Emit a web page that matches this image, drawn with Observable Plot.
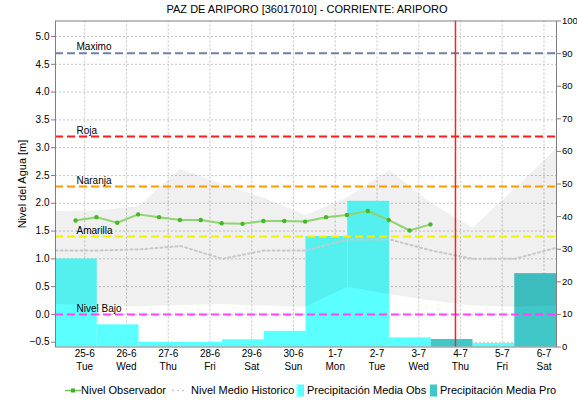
<!DOCTYPE html>
<html>
<head>
<meta charset="utf-8">
<script src="https://cdn.jsdelivr.net/npm/d3@7"></script>
<script src="https://cdn.jsdelivr.net/npm/@observablehq/plot@0.6"></script>
<style>
  body { margin: 0; background: #fff; font-family: "Liberation Sans", Arial, sans-serif; }
  #wrap { position: relative; width: 577px; height: 401px; overflow: hidden; }
  #title { position: absolute; top: 3px; left: 307px; transform: translateX(-50%); white-space: nowrap; font-size: 11px; line-height: 13px; color: #000; z-index: 2; }
  #chart { position: absolute; top: 10px; left: 0; }
  #ylabel { position: absolute; left: 22px; top: 183.5px; transform: translate(-50%, -50%) rotate(-90deg); white-space: nowrap; font-size: 11px; line-height: 13px; }
  .leg { position: absolute; top: 384px; font-size: 11px; line-height: 13px; white-space: nowrap; }
  .leg svg { position: absolute; top: 0; }
</style>
</head>
<body>
<div id="wrap">
  <div id="chart"></div>
  <div id="title">PAZ DE ARIPORO [36017010] - CORRIENTE: ARIPORO</div>
  <div id="ylabel">Nivel del Agua [m]</div>
  <div class="leg" style="left:65px;"><svg width="16" height="13"><line x1="0" y1="6.5" x2="16" y2="6.5" stroke="#6cc84a" stroke-width="1.5"/><rect x="6" y="4.5" width="4" height="4" fill="#3cae20"/></svg><span style="position:absolute;left:16px;">Nivel Observador</span></div>
  <div class="leg" style="left:172px;"><svg width="14" height="13"><line x1="0" y1="6.5" x2="14" y2="6.5" stroke="#c8c8c8" stroke-width="1.5" stroke-dasharray="2,3"/></svg><span style="position:absolute;left:19px;">Nivel Medio Historico</span></div>
  <div class="leg" style="left:296px;"><svg width="9" height="13"><rect x="0" y="0.5" width="8" height="12" fill="#5affff"/><rect x="0" y="0.5" width="2" height="12" fill="#b8ffff"/></svg><span style="position:absolute;left:11px;">Precipitación Media Obs</span></div>
  <div class="leg" style="left:430px;"><svg width="8" height="13"><rect x="0" y="0.5" width="7" height="12" fill="#40c8c8"/></svg><span style="position:absolute;left:10px;">Precipitación Media Pro</span></div>
</div>
<script>
// ---- data ----
const days = ["25-6","26-6","27-6","28-6","29-6","30-6","1-7","2-7","3-7","4-7","5-7","6-7"];
const weekdays = ["Tue","Wed","Thu","Fri","Sat","Sun","Mon","Tue","Wed","Thu","Fri","Sat"];

// observed level (every 12 h, in days from the start of 25-6)
const obsTime  = [0.48,0.98,1.48,1.98,2.48,2.98,3.48,3.98,4.48,4.98,5.48,5.98,6.48,6.98,7.48,7.98,8.48,8.98];
const obsLevel = [1.69,1.75,1.65,1.80,1.75,1.70,1.70,1.64,1.63,1.68,1.68,1.67,1.75,1.79,1.86,1.70,1.51,1.62];

// historical band and mean, at day boundaries
const bandTime = [0,1,2,3,4,5,6,7,8,9,10,11,12];
const bandHigh = [1.85,1.86,1.94,2.61,2.34,2.09,1.78,2.10,2.59,2.00,1.55,2.25,2.97];
const bandLow  = [0.18,0.15,0.14,0.16,0.18,0.15,0.13,0.49,0.36,0.24,0.15,0.13,0.16];
const meanHist = [1.15,1.15,1.17,1.23,1.00,1.15,1.15,1.35,1.35,1.15,1.00,1.00,1.20];

// precipitation (right axis, 0-100)
const precipObs  = [27.0,6.8,1.4,1.4,2.2,4.8,33.9,44.7,2.8,null,1.1,null];
const precipPred = [null,null,null,null,null,null,null,null,null,2.3,null,22.5];

// alert thresholds
const thresholdNames  = ["Maximo","Roja","Naranja","Amarilla","Nivel Bajo"];
const thresholdValues = [4.7,3.2,2.3,1.4,0.0];
const thresholdColors = ["#7080a8","#ff1a1a","#ff9a00","#f2f200","#ff44ff"];

const nowTime = 9.58;
const leftTicks = [-0.5,0,0.5,1,1.5,2,2.5,3,3.5,4,4.5,5];
const rightTicks = [0,10,20,30,40,50,60,70,80,90,100];
const tickOffset = 0.7;

// ---- derived ----
const yMin = -0.586, yMax = 5.279;
const toLeft = v => yMin + v / 100 * (yMax - yMin);
const fromLeft = y => (y - yMin) / (yMax - yMin) * 100;

const obs = obsTime.map((t, i) => ({t, v: obsLevel[i]}));
const band = bandTime.map((t, i) => ({t, hi: bandHigh[i], lo: bandLow[i], mean: meanHist[i]}));
const obsBars = days.map((d, i) => ({i, v: precipObs[i]})).filter(d => d.v != null);
const predBars = days.map((d, i) => ({i, v: precipPred[i]})).filter(d => d.v != null);
const thresholds = thresholdNames.map((n, i) => ({name: n, value: thresholdValues[i], color: thresholdColors[i]}));
const xTicks = days.map((d, i) => i + tickOffset);
const idx = v => Math.round(v - tickOffset);

const chart = Plot.plot({
  width: 577,
  height: 366,
  marginTop: 10.5,
  marginBottom: 29.5,
  marginLeft: 55,
  marginRight: 21,
  style: {fontFamily: "'Liberation Sans', Arial, sans-serif", fontSize: "10px", background: "transparent", overflow: "visible"},
  x: {domain: [0, 12]},
  y: {domain: [yMin, yMax]},
  marks: [
    Plot.ruleY(leftTicks, {stroke: "#c4c4c4", strokeDasharray: "2,2", strokeWidth: 1}),
    Plot.ruleX(xTicks, {stroke: "#c4c4c4", strokeDasharray: "2,2", strokeWidth: 1}),
    Plot.rect(obsBars, {x1: d => d.i, x2: d => d.i + 1, y1: () => toLeft(0), y2: d => toLeft(d.v), fill: "#5affff"}),
    Plot.rect(predBars, {x1: d => d.i, x2: d => d.i + 1, y1: () => toLeft(0), y2: d => toLeft(d.v), fill: "#40c8c8"}),
    Plot.areaY(band, {x: "t", y1: "lo", y2: "hi", fill: "#000", fillOpacity: 0.06}),
    Plot.line(band, {x: "t", y: "mean", stroke: "#c8c8c8", strokeWidth: 2, strokeDasharray: "2,3"}),
    Plot.ruleY(thresholds, {y: "value", stroke: "color", strokeWidth: 2, strokeDasharray: "8,4"}),
    Plot.text(thresholds, {y: "value", text: "name", frameAnchor: "left", dx: 21, dy: -6, textAnchor: "start", fill: "#000", fontSize: 10}),
    Plot.line(obs, {x: "t", y: "v", stroke: "#8fd46f", strokeWidth: 2}),
    Plot.dot(obs, {x: "t", y: "v", r: 2.2, fill: "#44b826", stroke: "none"}),
    Plot.ruleX([nowTime], {stroke: "#ff2020", strokeWidth: 1.5}),
    Plot.axisY({anchor: "left", ticks: leftTicks, tickFormat: d3.format(".1f"), tickSize: 4, tickPadding: 2, label: null, stroke: "#808080"}),
    Plot.axisY({anchor: "right", ticks: rightTicks.map(toLeft), tickFormat: y => String(Math.round(fromLeft(y))), tickSize: 4, tickPadding: 1.5, fontSize: 9.5, label: null, stroke: "#808080"}),
    Plot.axisX({ticks: xTicks, tickFormat: v => days[idx(v)], tickSize: 0, tickPadding: 3, label: null}),
    Plot.axisX({ticks: xTicks, tickFormat: v => weekdays[idx(v)], tickSize: 0, tickPadding: 16, label: null}),
    Plot.frame({stroke: "#808080"})
  ]
});
document.getElementById("chart").appendChild(chart);
</script>
</body>
</html>
